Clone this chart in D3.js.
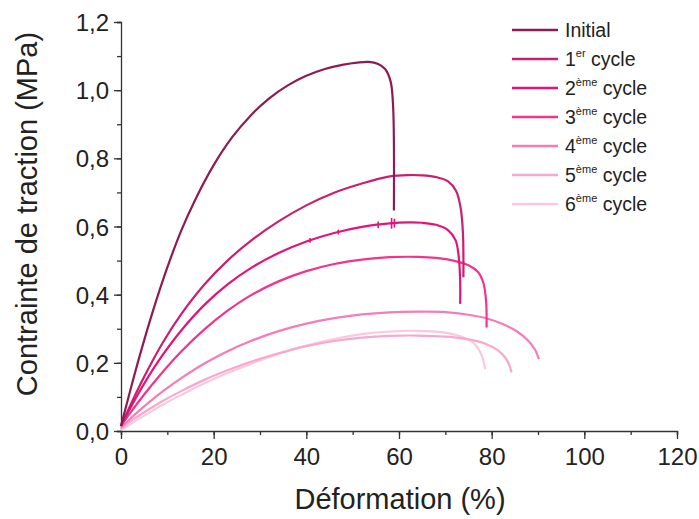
<!DOCTYPE html>
<html><head><meta charset="utf-8">
<script src="https://d3js.org/d3.v7.min.js"></script>
<style>body{margin:0;background:#fff;} svg{display:block;} text{font-family:"Liberation Sans",Arial,sans-serif;fill:#222;}</style>
</head><body><svg id="c" width="699" height="519"></svg>
<script>
// Data (x = Déformation %, y = Contrainte MPa)
const initialX = [0, 2, 4, 7, 10, 13, 16, 20, 24, 28, 32, 36, 40, 44, 48, 51, 53.5, 55.5, 57, 58.2, 58.7, 58.9, 58.9];
const initialY = [0.015, 0.119, 0.219, 0.357, 0.48, 0.588, 0.678, 0.78, 0.862, 0.926, 0.976, 1.014, 1.042, 1.062, 1.075, 1.081, 1.083, 1.077, 1.062, 1.025, 0.96, 0.85, 0.647];
const cycle1X = [0, 2, 5, 9, 13, 18, 23, 28, 34, 40, 46, 52, 58, 62, 65, 68, 70.5, 72.3, 73.3, 73.8, 73.9];
const cycle1Y = [0.015, 0.075, 0.159, 0.259, 0.343, 0.43, 0.5, 0.558, 0.615, 0.662, 0.699, 0.726, 0.747, 0.751, 0.75, 0.745, 0.733, 0.705, 0.655, 0.58, 0.451];
const cycle2X = [0, 2, 5, 9, 13, 18, 23, 28, 34, 40, 46, 52, 58, 62, 65, 68, 70.5, 72.2, 72.9, 73.2, 73.2];
const cycle2Y = [0.015, 0.067, 0.139, 0.223, 0.295, 0.37, 0.43, 0.478, 0.522, 0.556, 0.581, 0.599, 0.609, 0.612, 0.611, 0.605, 0.59, 0.56, 0.51, 0.44, 0.373];
const cycle3X = [0, 2, 5, 9, 13, 18, 23, 28, 34, 40, 46, 52, 58, 64, 68, 72, 75, 77, 78.2, 78.8, 78.9];
const cycle3Y = [0.015, 0.053, 0.107, 0.173, 0.233, 0.298, 0.353, 0.398, 0.439, 0.469, 0.49, 0.503, 0.51, 0.511, 0.508, 0.499, 0.486, 0.467, 0.435, 0.38, 0.304];
const cycle4X = [0, 2, 5, 9, 13, 18, 23, 28, 34, 40, 46, 52, 58, 64, 70, 75, 79, 82.5, 85.5, 87.8, 89.3, 90.2];
const cycle4Y = [0.01, 0.036, 0.072, 0.116, 0.155, 0.198, 0.234, 0.264, 0.293, 0.315, 0.331, 0.342, 0.348, 0.35, 0.349, 0.341, 0.33, 0.313, 0.292, 0.266, 0.24, 0.211];
const cycle5X = [0, 2, 5, 9, 13, 18, 23, 28, 34, 40, 46, 52, 58, 64, 70, 75, 78.5, 81.3, 83.2, 84.3];
const cycle5Y = [0.008, 0.028, 0.055, 0.088, 0.117, 0.15, 0.178, 0.203, 0.228, 0.249, 0.264, 0.274, 0.279, 0.28, 0.277, 0.269, 0.257, 0.237, 0.21, 0.172];
const cycle6X = [0, 2, 5, 9, 13, 18, 23, 28, 34, 40, 46, 52, 58, 64, 69, 72.5, 75, 76.8, 77.9, 78.6];
const cycle6Y = [0.003, 0.02, 0.045, 0.077, 0.106, 0.14, 0.17, 0.197, 0.226, 0.251, 0.27, 0.284, 0.292, 0.294, 0.29, 0.281, 0.268, 0.248, 0.22, 0.181];
// small measurement spikes on the 2nd cycle curve
const spikeX = [40.8, 46.9, 55.5, 58.4, 59.0];
const spikeH = [0.007, 0.007, 0.01, 0.016, 0.013];
const seriesNames = ["Initial", "1", "2", "3", "4", "5", "6"];
const seriesSup = ["", "er", "ème", "ème", "ème", "ème", "ème"];
const seriesColors = ["#8e1b52", "#c91f6e", "#e4137b", "#f2348f", "#f57cb6", "#f9a8cd", "#fcc8df"];
const xTicks = [0, 20, 40, 60, 80, 100, 120];
const yTicks = [0, 0.2, 0.4, 0.6, 0.8, 1.0, 1.2];
const xLabel = "Déformation (%)";
const yLabel = "Contrainte de traction (MPa)";

const seriesX = [initialX, cycle1X, cycle2X, cycle3X, cycle4X, cycle5X, cycle6X];
const seriesY = [initialY, cycle1Y, cycle2Y, cycle3Y, cycle4Y, cycle5Y, cycle6Y];

const svg = d3.select("#c");
const x = d3.scaleLinear().domain([0, 120]).range([121, 677]);
const y = d3.scaleLinear().domain([0, 1.2]).range([431, 22]);
const fmt = d => d3.format(".1f")(d).replace(".", ",");
const FF = "Liberation Sans, Arial, sans-serif";

// axes
const xAxis = svg.append("g").attr("transform", "translate(0,431)");
xAxis.call(d3.axisBottom(x).tickValues(d3.range(0, 121, 10)).tickSize(4).tickFormat(""));
xAxis.append("g").call(d3.axisBottom(x).tickValues(xTicks).tickSize(8).tickFormat(d3.format("d")))
  .call(g => g.select(".domain").remove());
const yAxis = svg.append("g").attr("transform", "translate(121,0)");
yAxis.call(d3.axisLeft(y).tickValues(d3.range(0, 13).map(i => i / 10)).tickSize(4).tickFormat(""));
yAxis.append("g").call(d3.axisLeft(y).tickValues(yTicks).tickSize(7).tickFormat(fmt))
  .call(g => g.select(".domain").remove());
svg.selectAll(".domain, .tick line").attr("stroke", "#333").attr("stroke-width", 1.3);
xAxis.selectAll(".tick text").attr("font-size", 24).attr("y", 34).attr("dy", 0).attr("fill", "#222").attr("font-family", FF);
yAxis.selectAll(".tick text").attr("font-size", 24).attr("x", -12).attr("dy", "0.36em").attr("fill", "#222").attr("font-family", FF);

svg.append("text").attr("x", 400).attr("y", 509).attr("text-anchor", "middle").attr("font-size", 29).text(xLabel);
svg.append("text").attr("transform", "translate(37,214) rotate(-90)").attr("text-anchor", "middle").attr("font-size", 29).text(yLabel);

// lines
const line = d3.line().x(d => x(d[0])).y(d => y(d[1])).curve(d3.curveCatmullRom.alpha(0.5));
for (let i = seriesX.length - 1; i >= 0; i--) {
  const pts = seriesX[i].map((v, j) => [v, seriesY[i][j]]);
  svg.append("path").datum(pts).attr("d", line).attr("fill", "none")
    .attr("stroke", seriesColors[i]).attr("stroke-width", 2.2);
}
// spikes on cycle 2 (y taken from its data by linear interpolation)
const c2 = d3.scaleLinear().domain(cycle2X.slice(0, 14)).range(cycle2Y.slice(0, 14));
spikeX.forEach((sx, i) => {
  const cy = c2(sx);
  svg.append("line").attr("x1", x(sx)).attr("x2", x(sx))
    .attr("y1", y(cy + spikeH[i])).attr("y2", y(cy - spikeH[i]))
    .attr("stroke", seriesColors[2]).attr("stroke-width", 1.6);
});

// legend
const leg = svg.append("g");
seriesNames.forEach((n, i) => {
  const yy = 30 + i * 29;
  leg.append("line").attr("x1", 512).attr("x2", 558).attr("y1", yy).attr("y2", yy)
    .attr("stroke", seriesColors[i]).attr("stroke-width", 2.4);
  const t = leg.append("text").attr("x", 565).attr("y", yy + 7).attr("font-size", 19.5);
  t.append("tspan").text(n);
  if (seriesSup[i]) {
    t.append("tspan").attr("font-size", 11).attr("dy", -9).text(seriesSup[i]);
    t.append("tspan").attr("dy", 9).text(" cycle");
  }
});
</script></body></html>
